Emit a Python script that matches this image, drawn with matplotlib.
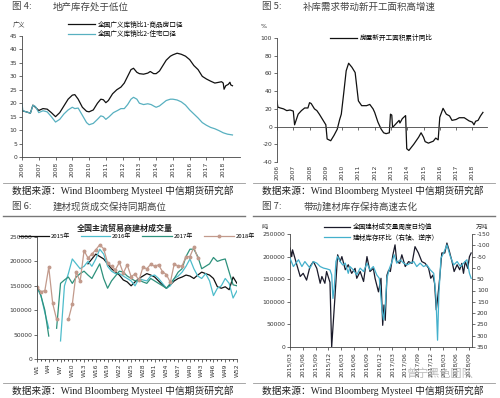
import numpy as np
import matplotlib
matplotlib.use('Agg')
import matplotlib.pyplot as plt

plt.rcParams['font.family'] = ['DejaVu Sans', 'Noto Sans CJK SC']
plt.rcParams['axes.unicode_minus'] = False

# ---- figure 4: inventory-to-sales ratio
p1_x = [2006.00, 2006.25, 2006.50, 2006.65, 2006.80, 2007.00, 2007.25, 2007.50, 2007.75, 2008.00,
        2008.25, 2008.50, 2008.75, 2009.00, 2009.15, 2009.35, 2009.60, 2009.85, 2010.00, 2010.25,
        2010.50, 2010.70, 2010.85, 2011.00, 2011.15, 2011.40, 2011.65, 2011.90, 2012.10, 2012.30,
        2012.50, 2012.65, 2012.85, 2013.00, 2013.25, 2013.50, 2013.65, 2013.85, 2014.00, 2014.20,
        2014.40, 2014.60, 2014.85, 2015.00, 2015.25, 2015.50, 2015.75, 2016.00, 2016.25, 2016.50,
        2016.75, 2017.00, 2017.25, 2017.50, 2017.75, 2017.90, 2018.00, 2018.05, 2018.15, 2018.30,
        2018.40, 2018.45, 2018.55]
ratio_all = [17.2, 16.8, 16.3, 19.3, 18.5, 17.3, 18.0, 17.8, 16.5, 15.0,
             16.5, 19.0, 21.5, 23.0, 23.2, 21.5, 18.5, 17.0, 16.8, 17.5,
             20.0, 21.5, 21.3, 20.2, 21.0, 23.5, 25.0, 26.0, 27.5, 30.0,
             32.5, 33.0, 31.5, 31.0, 30.8, 31.2, 31.8, 31.0, 31.0, 32.0,
             34.0, 36.0, 37.5, 38.0, 38.6, 38.2, 37.5, 36.2, 34.0, 32.5,
             30.0, 29.0, 28.2, 27.5, 27.8, 28.0, 27.5, 25.2, 26.5, 27.0,
             27.8, 26.8, 26.5]
p1_x2 = [2006.00, 2006.05, 2006.25, 2006.50, 2006.65, 2006.80, 2007.00, 2007.25, 2007.50, 2007.75,
         2008.00, 2008.25, 2008.50, 2008.75, 2009.00, 2009.15, 2009.35, 2009.60, 2009.85, 2010.00,
         2010.25, 2010.50, 2010.70, 2010.85, 2011.00, 2011.20, 2011.45, 2011.70, 2011.90, 2012.10,
         2012.30, 2012.50, 2012.65, 2012.85, 2013.00, 2013.25, 2013.50, 2013.70, 2013.90, 2014.00,
         2014.20, 2014.40, 2014.60, 2014.85, 2015.00, 2015.25, 2015.50, 2015.75, 2016.00, 2016.25,
         2016.50, 2016.75, 2017.00, 2017.25, 2017.50, 2017.75, 2018.00, 2018.25, 2018.45, 2018.55]
ratio_res = [19.8, 17.2, 16.8, 16.3, 19.2, 18.8, 16.5, 17.2, 16.8, 15.0,
             13.0, 14.0, 16.0, 17.5, 18.5, 18.0, 18.2, 15.5, 12.8, 12.0,
             12.5, 14.0, 15.3, 15.0, 14.0, 15.0, 16.5, 17.3, 18.0, 18.0,
             19.5, 21.5, 22.2, 21.5, 20.0, 19.5, 19.8, 19.5, 18.8, 18.5,
             19.0, 20.0, 21.0, 21.5, 21.5, 21.2, 20.5, 19.3, 17.5, 16.0,
             14.5, 12.8, 11.8, 11.0, 10.5, 9.8, 9.0, 8.5, 8.3, 8.2]
years = list(range(2006, 2019))

# ---- figure 5: new construction area yoy
p2_x = [2006.0, 2006.05, 2006.2, 2006.4, 2006.6, 2006.8, 2007.0, 2007.08, 2007.3, 2007.5,
        2007.7, 2007.9, 2008.0, 2008.1, 2008.3, 2008.45, 2008.6, 2008.8, 2009.0, 2009.08,
        2009.3, 2009.5, 2009.7, 2009.85, 2009.95, 2010.1, 2010.25, 2010.4, 2010.6, 2010.8,
        2010.9, 2011.0, 2011.2, 2011.5, 2011.7, 2011.9, 2012.0, 2012.2, 2012.4, 2012.55,
        2012.7, 2012.9, 2012.97, 2013.05, 2013.1, 2013.3, 2013.5, 2013.55, 2013.7, 2013.9,
        2013.97, 2014.1, 2014.4, 2014.7, 2014.85, 2015.0, 2015.1, 2015.3, 2015.6, 2015.75,
        2015.9, 2016.0, 2016.2, 2016.4, 2016.6, 2016.75, 2017.0, 2017.2, 2017.5, 2017.8,
        2018.0, 2018.1, 2018.2, 2018.35, 2018.5, 2018.65]
new_start = [29, 22, 21, 20, 18, 18.7, 17.5, 2, 14, 18,
             21, 21, 27, 26, 20, 18, 14, 8, 2, -14,
             -16, -10, -3, 8, 14, 38, 63, 71.5, 67, 61,
             45, 29, 23.6, 23.6, 25, 20, 16, 5, -3, -7,
             -8, -7, 14, 13, -1, 3, 7, 4, 9, 12.4,
             -25, -27, -20, -12, -7, -12, -17, -18.7, -16.5, -13,
             -15, 10.5, 20.6, 14, 12, 7, 8, 10, 10, 6.4,
             5, 2, 6, 7, 12, 16]

# ---- figure 6: weekly building material turnover
weeks = list(range(1, 53))
nan = np.nan
vol_2015 = [nan] * 13 + [195000, 205000, 215000, 210000, 205000, 195000, 185000, 178000, 172000, 162000,
                         158000, 150000, 158000, 165000, 170000, 175000, 172000, 168000, 160000, 152000,
                         145000, 152000, 160000, 165000, 168000, 172000, 170000, 165000, 172000, 178000,
                         175000, 172000, 165000, 148000, 145000, 148000, 142000, 168000, 155000]
vol_2016 = [145000, 130000, 95000, 63000, nan, nan, 37000, 150000, 175000, 205000,
            195000, 185000, 190000, 200000, 190000, 205000, 225000, 215000, 190000, 180000,
            175000, 175000, 170000, 165000, 160000, 150000, 165000, 162000, 160000, 170000,
            172000, 165000, 155000, 145000, 150000, 165000, 170000, 178000, 190000, 205000,
            185000, 170000, 165000, 175000, 160000, 130000, 145000, 150000, 165000, 155000,
            125000, 140000]
vol_2017 = [150000, 130000, 100000, 47000, nan, 63000, 155000, 162000, 168000, 155000,
            168000, 175000, 180000, 172000, 165000, 180000, 195000, 165000, 145000, 160000,
            170000, 180000, 178000, 170000, 165000, 160000, 162000, 158000, 155000, 165000,
            160000, 155000, 150000, 145000, 155000, 165000, 178000, 185000, 210000, 225000,
            225000, 210000, 185000, 190000, 195000, 208000, 200000, 203000, 205000, 178000,
            152000, 150000]
vol_2018 = [148000, 138000, 140000, 188000, 114000, 81000, nan, nan, 81000, 112000,
            178000, 159000, 222000, 207000, 215000, 224000, 234000, 226000, 197000, 190000,
            183000, 198000, 176000, 193000, 169000, 174000, 161000, 188000, 185000, 194000,
            190000, 193000, 179000, 173000, 157000, 195000, 190000, 191000, 210000, 210000,
            229000, 207000] + [nan] * 10
wk_ticks = list(range(1, 53, 3))

# ---- figure 7: turnover vs inventory change (months since 2015/03)
p4_m = [0, 0.4, 0.6, 1.6, 2.4, 3.1, 3.9, 4.7, 5.5, 6.3,
        7.1, 7.5, 8.2, 8.6, 9.4, 9.8, 10.6, 11.2, 11.8, 12.2,
        13.0, 13.7, 14.5, 15.3, 15.7, 16.5, 17.3, 18.1, 18.8, 19.6,
        20.0, 20.4, 20.8, 21.4, 21.8, 22.1, 22.4, 22.8, 23.2, 23.6,
        24.2, 24.7, 25.1, 25.8, 26.3, 27.1, 27.9, 28.7, 29.4, 30.2,
        31.0, 31.8, 32.6, 33.1, 33.6, 34.0, 34.4, 34.8, 35.2, 35.7,
        36.4, 36.9, 37.5, 38.1, 38.6, 39.3, 39.9, 40.4, 40.8, 41.2,
        41.8, 42.2, 42.6]
turnover = [219000, 200000, 215000, 182000, 156000, 163000, 148000, 178000, 189000, 174000,
            141000, 156000, 141000, 167000, 143000, 0, 115000, 204000, 189000, 200000,
            171000, 182000, 163000, 174000, 152000, 167000, 145000, 200000, 167000, 174000,
            152000, 137000, 122000, 152000, 48000, 93000, 59000, 159000, 170000, 167000,
            204000, 226000, 189000, 185000, 204000, 178000, 189000, 185000, 222000, 208000,
            189000, 185000, 174000, 152000, 159000, 141000, 82000, 115000, 152000, 208000,
            208000, 230000, 211000, 189000, 167000, 182000, 171000, 185000, 163000, 189000,
            174000, 200000, 208000]
p4_m2 = [0, 0.8, 2.0, 2.8, 3.5, 4.7, 5.5, 6.3, 7.1, 7.9,
         8.6, 9.4, 9.8, 10.1, 10.4, 10.8, 11.2, 11.8, 12.4, 13.0,
         13.7, 14.1, 14.9, 15.7, 16.5, 17.3, 18.1, 18.8, 19.6, 20.4,
         21.0, 21.6, 22.0, 22.4, 22.8, 23.4, 24.0, 24.5, 25.1, 25.9,
         26.7, 27.5, 28.3, 29.1, 29.8, 30.6, 31.4, 32.2, 33.0, 33.8,
         34.3, 34.7, 35.0, 35.5, 36.1, 36.9, 37.7, 38.5, 39.3, 40.1,
         40.8, 41.6, 42.2, 42.6]
inv_change = [-43, -6, -36, -6, -28, 1, -28, -21, -6, 1,
              4, 9, 31, 135, 90, -28, -51, -28, -13, -21,
              24, -6, 9, 31, 1, 16, -21, 9, -6, 31,
              46, 179, 230, 165, 46, 1, -28, -58, -21, -36,
              -21, -13, -21, -28, -6, -21, -6, -13, 9, 24,
              120, 320, 120, -43, -65, -102, -51, -13, -28, -6,
              -21, -36, 24, 46]
date_ticks = list(range(0, 43, 3))
date_labels = ['2015/03', '2015/06', '2015/09', '2015/12', '2016/03', '2016/06', '2016/09', '2016/12',
               '2017/03', '2017/06', '2017/09', '2017/12', '2018/03', '2018/06', '2018/09']

W, H = 500, 398
fig = plt.figure(figsize=(5, 3.98), dpi=100)
cjk = ['Noto Sans CJK SC', 'DejaVu Sans']
serif = ['Liberation Serif', 'Noto Sans CJK SC']
LEG = 4.8


def box(x0, y0, x1, y1):
    return [x0 / W, 1 - y1 / H, (x1 - x0) / W, (y1 - y0) / H]


def txt(x, y, s, **kw):
    fig.text(x / W, 1 - y / H, s, **kw)


def style(ax):
    for s in ['top', 'right']:
        ax.spines[s].set_visible(False)
    for s in ['left', 'bottom']:
        ax.spines[s].set_linewidth(0.6)
        ax.spines[s].set_color('#444444')
    ax.tick_params(labelsize=4.3, width=0.5, length=2, pad=1.5, colors='#333333')


# headers and footers
for x0, ttl, num in [(0, '地产库存处于低位', '图 4:'), (250, '补库需求带动新开工面积高增速', '图 5:')]:
    txt(x0 + 12, 7, num, fontsize=6.8, color='#444444', family=cjk, va='center')
    txt(x0 + 53, 7, ttl, fontsize=6.8, color='#444444', family=cjk, va='center')
    fig.add_artist(plt.Line2D([(x0 + 3) / W, (x0 + 245) / W], [1 - 183 / H] * 2, color='#999999', lw=0.6))
    txt(x0 + 12, 191, '数据来源：Wind Bloomberg Mysteel 中信期货研究部', fontsize=7, family=serif,
        va='center', color='#222222')
for x0, ttl, num in [(0, '建材现货成交保持同期高位', '图 6:'), (250, '带动建材库存保持高速去化', '图 7:')]:
    txt(x0 + 12, 207, num, fontsize=6.8, color='#444444', family=cjk, va='center')
    txt(x0 + 53, 207, ttl, fontsize=6.8, color='#444444', family=cjk, va='center')
    fig.add_artist(plt.Line2D([(x0 + 3) / W, (x0 + 245) / W], [1 - 216 / H] * 2, color='#777777', lw=1.0))
    fig.add_artist(plt.Line2D([(x0 + 3) / W, (x0 + 245) / W], [1 - 383 / H] * 2, color='#999999', lw=0.6))
    txt(x0 + 12, 391, '数据来源：Wind Bloomberg Mysteel 中信期货研究部', fontsize=7, family=serif,
        va='center', color='#222222')

# ---- chart 1
ax1 = fig.add_axes(box(22, 36, 240, 157))
ax1.plot(p1_x, ratio_all, color='#111111', lw=0.9, label='全国广义库销比1-商品房口径')
ax1.plot(p1_x2, ratio_res, color='#58b0c0', lw=0.9, label='全国广义库销比2-住宅口径')
ax1.set_xlim(2006, 2019)
ax1.set_ylim(0, 45)
ax1.set_yticks(range(0, 46, 5))
ax1.set_xticks(years)
ax1.set_xticklabels([str(y) for y in years], rotation=90)
style(ax1)
ax1.legend(loc='upper left', bbox_to_anchor=(0.2, 1.15), frameon=False, prop={'family': cjk, 'size': LEG},
           handlelength=4, handletextpad=0.4, labelspacing=0.25, borderaxespad=0)
txt(13, 25, '广义', fontsize=4.5, family=cjk, va='center', color='#333333')

# ---- chart 2
ax2 = fig.add_axes(box(277, 38, 487, 162))
ax2.plot(p2_x, new_start, color='#111111', lw=0.9, label='房屋新开工面积累计同比')
ax2.set_xlim(2006, 2018.9)
ax2.set_ylim(-40, 100)
ax2.set_yticks(range(-40, 101, 20))
style(ax2)
ax2.spines['bottom'].set_position(('data', 0))
ax2.set_xticks(years)
ax2.tick_params(axis='x', labelbottom=False, length=2)
sec = ax2.secondary_xaxis('bottom')
sec.set_xticks(years)
sec.set_xticklabels([str(y) for y in years], rotation=90)
sec.tick_params(length=0, labelsize=4.3, pad=2, colors='#333333')
sec.spines['bottom'].set_visible(False)
ax2.legend(loc='upper left', bbox_to_anchor=(0.24, 1.05), frameon=False, prop={'family': cjk, 'size': LEG},
           handlelength=4, handletextpad=0.4, borderaxespad=0)
txt(261, 26, '%', fontsize=4.5, va='center', color='#333333')

# ---- chart 3
ax3 = fig.add_axes(box(37, 237, 237, 359))
ax3.plot(weeks, vol_2015, color='#111111', lw=0.9, label='2015年')
ax3.plot(weeks, vol_2016, color='#4dbccb', lw=0.9, label='2016年')
ax3.plot(weeks, vol_2017, color='#2e917c', lw=0.9, label='2017年')
ax3.plot(weeks, vol_2018, color='#c29a8c', lw=0.9, marker='o', ms=1.8, label='2018年')
ax3.set_xlim(1, 52)
ax3.set_ylim(0, 250000)
ax3.set_yticks(range(0, 250001, 50000))
ax3.set_xticks(wk_ticks)
ax3.set_xticklabels(['W%d' % w for w in wk_ticks], rotation=90)
ax3.set_xticks(weeks, minor=True)
style(ax3)
ax3.tick_params(axis='x', which='minor', length=1.5, width=0.5)
ax3.legend(loc='lower center', bbox_to_anchor=(0.5, 0.965), ncol=4, frameon=False, prop={'family': cjk, 'size': 4.3},
           handlelength=5, handletextpad=0.3, columnspacing=1.8, borderaxespad=0)
txt(125, 228, '全国主流贸易商建材成交量', fontsize=5.8, family=cjk, ha='center', va='center', color='#222222',
    fontweight='bold')

# ---- chart 4
ax4 = fig.add_axes(box(290, 234, 472, 347))
ax4.plot(p4_m, turnover, color='#1a1a2a', lw=0.9, label='全国建材成交量周度日均值')
ax4.set_xlim(0, 42.8)
ax4.set_ylim(0, 250000)
ax4.set_yticks(range(0, 250001, 50000))
ax4.set_xticks(date_ticks)
ax4.set_xticklabels(date_labels, rotation=90)
style(ax4)
ax5 = ax4.twinx()
ax5.plot(p4_m2, inv_change, color='#44b0cc', lw=0.9, label='建材库存环比（右轴、逆序）')
ax5.set_ylim(350, -150)
ax5.set_yticks(range(-150, 351, 50))
for s in ['top', 'left', 'bottom']:
    ax5.spines[s].set_visible(False)
ax5.spines['right'].set_linewidth(0.6)
ax5.spines['right'].set_color('#444444')
ax5.tick_params(labelsize=4.3, width=0.5, length=2, pad=1.5, colors='#333333')
h1, l1 = ax4.get_legend_handles_labels()
h2, l2 = ax5.get_legend_handles_labels()
ax4.legend(h1 + h2, l1 + l2, loc='upper left', bbox_to_anchor=(0.17, 1.12), frameon=False,
           prop={'family': cjk, 'size': LEG}, handlelength=4, handletextpad=0.4, labelspacing=0.4, borderaxespad=0)
txt(262, 227, '吨', fontsize=4.5, family=cjk, va='center', color='#333333')
txt(476, 227, '万吨', fontsize=4.5, family=cjk, va='center', color='#333333')
txt(440, 374, '曾宁黑色团队', fontsize=8, family=cjk, ha='center', va='center', color='#aaaaaa', alpha=0.8)

fig.savefig('out.png', dpi=100)
